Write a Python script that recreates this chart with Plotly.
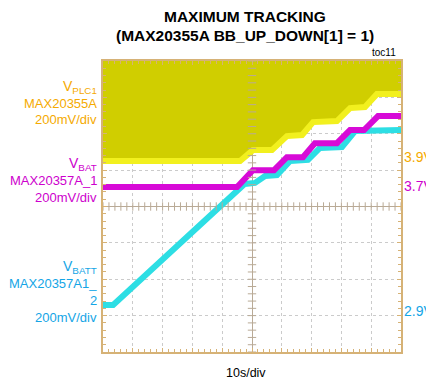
import numpy as np
import plotly.graph_objects as go

# ---- data (time in s, centred on the trigger; values in volts) ----
t_plc = [-50, -4, 0.3, 6.7, 11.7, 16.8, 20.5, 28.5, 32.9, 37.9, 41.9, 50]
v_plc = [3.878, 3.878, 3.938, 3.938, 4.015, 4.021, 4.092, 4.098, 4.169, 4.175, 4.246, 4.246]

t_bat = [-50, -5.0, 0.3, 7.4, 11.7, 17.1, 21.1, 28.5, 32.9, 37.6, 42.3, 50]
v_bat = [3.695, 3.695, 3.788, 3.788, 3.859, 3.859, 3.936, 3.936, 4.008, 4.008, 4.085, 4.085]

t_batt = [-50, -46.6, -2.5, 1.0, 4.4, 8.4, 12.8, 18.8, 22.8, 30.2, 34.6, 50]
v_batt = [2.933, 2.933, 3.598, 3.604, 3.642, 3.647, 3.724, 3.730, 3.796, 3.801, 3.889, 3.895]

# channel reference levels (V) and their position on screen (divisions from centre)
ch_ref = [3.9, 3.7, 2.9]
ch_pos = [1.36, 0.56, -2.87]
v_per_div = 0.2

ch_names = ["V<sub>PLC1</sub>", "V<sub>BAT</sub>", "V<sub>BATT</sub>"]
ch_parts = [["MAX20355A"], ["MAX20357A_1"], ["MAX20357A1_", "2"]]
ref_labels = ["3.9V", "3.7V", "2.9V"]
title_lines = ["MAXIMUM TRACKING", "(MAX20355A BB_UP_DOWN[1] = 1)"]

C_Y_TXT = "rgb(245,170,0)"
C_M_TXT = "rgb(205,0,205)"
C_C_TXT = "rgb(20,165,230)"
C_FILL = "rgb(208,206,0)"
C_YEDGE = "rgb(242,240,30)"
C_MAG = "rgb(215,10,215)"
C_CYAN = "rgb(45,222,228)"
C_FRAME = "rgb(214,178,118)"


def to_div(v, ch):
    return [(x - ch_ref[ch]) / v_per_div + ch_pos[ch] for x in v]


fig = go.Figure()

# top of screen helper for yellow fill
fig.add_trace(go.Scatter(x=t_plc, y=[4] * len(t_plc), mode="lines",
                         line=dict(width=0, color=C_FILL), hoverinfo="skip", showlegend=False))
fig.add_trace(go.Scatter(x=t_plc, y=to_div(v_plc, 0), mode="lines", fill="tonexty",
                         fillcolor=C_FILL, line=dict(color=C_YEDGE, width=6), showlegend=False))
fig.add_trace(go.Scatter(x=t_batt, y=to_div(v_batt, 2), mode="lines",
                         line=dict(color=C_CYAN, width=6), showlegend=False))
fig.add_trace(go.Scatter(x=t_bat, y=to_div(v_bat, 1), mode="lines",
                         line=dict(color=C_MAG, width=6), showlegend=False))

# centre graticule minor ticks
ys = np.arange(-4, 4.01, 0.2)
xs = np.arange(-50, 50.01, 2)
fig.add_trace(go.Scatter(x=[0] * len(ys), y=ys, mode="markers",
                         marker=dict(symbol="line-ew", size=6, line=dict(width=1, color="rgb(185,170,150)")),
                         hoverinfo="skip", showlegend=False))
fig.add_trace(go.Scatter(x=xs, y=[0] * len(xs), mode="markers",
                         marker=dict(symbol="line-ns", size=6, line=dict(width=1, color="rgb(185,170,150)")),
                         hoverinfo="skip", showlegend=False))

axis_common = dict(showticklabels=False, showline=True, linecolor=C_FRAME, linewidth=2, mirror="ticks",
                   ticks="inside", ticklen=4, tickcolor=C_FRAME, showgrid=True,
                   gridcolor="rgba(140,140,140,0.45)", griddash="dot", gridwidth=1,
                   zeroline=True, zerolinecolor="rgb(185,170,150)", zerolinewidth=1,
                   layer="above traces", fixedrange=True)

fig.update_xaxes(range=[-50, 50], dtick=10, minor=dict(dtick=2, ticks="inside", ticklen=3, tickcolor=C_FRAME),
                 **axis_common)
fig.update_yaxes(range=[-4, 4], dtick=1, minor=dict(dtick=0.2, ticks="inside", ticklen=3, tickcolor=C_FRAME),
                 **axis_common)

FONT = "Liberation Sans, Arial, sans-serif"
ann = []
top, bot = 61, 352
H = bot - top


def py(p):
    return (bot - p) / H


def add(text, x, y, color, size=13, xanchor="right", xshift=0):
    ann.append(dict(text=text, x=x, y=py(y), xref="paper", yref="paper",
                    xanchor=xanchor, yanchor="middle", showarrow=False, xshift=xshift,
                    font=dict(family=FONT, size=size, color=color)))


# left channel labels
cols = [C_Y_TXT, C_M_TXT, C_C_TXT]
name_y = [87, 164, 267]
for i in range(3):
    add(ch_names[i], 0, name_y[i], cols[i], size=14, xshift=-4)
    yy = name_y[i] + 16
    for part in ch_parts[i]:
        add(part, 0, yy, cols[i], xshift=-4)
        yy += 17
    add("200mV/div", 0, yy, cols[i], xshift=-4)

# right reference levels
ref_y = [157, 186, 311]
for i in range(3):
    add(ref_labels[i], 1, ref_y[i], cols[i], size=14, xanchor="left", xshift=1)

# titles
title_y = [16.5, 35]
for i in range(2):
    add("<b>%s</b>" % title_lines[i], (245 - 103) / 298, title_y[i], "black", size=15.5, xanchor="center")
add("toc11", 1, 52, "black", size=10, xanchor="right", xshift=-3)
add("10s/div", (246 - 103) / 298, 373, "black", size=12.5, xanchor="center")

fig.update_layout(width=426, height=381, margin=dict(l=103, r=25, t=61, b=29),
                  paper_bgcolor="white", plot_bgcolor="white", annotations=ann, showlegend=False)

fig.write_html("out.html")
